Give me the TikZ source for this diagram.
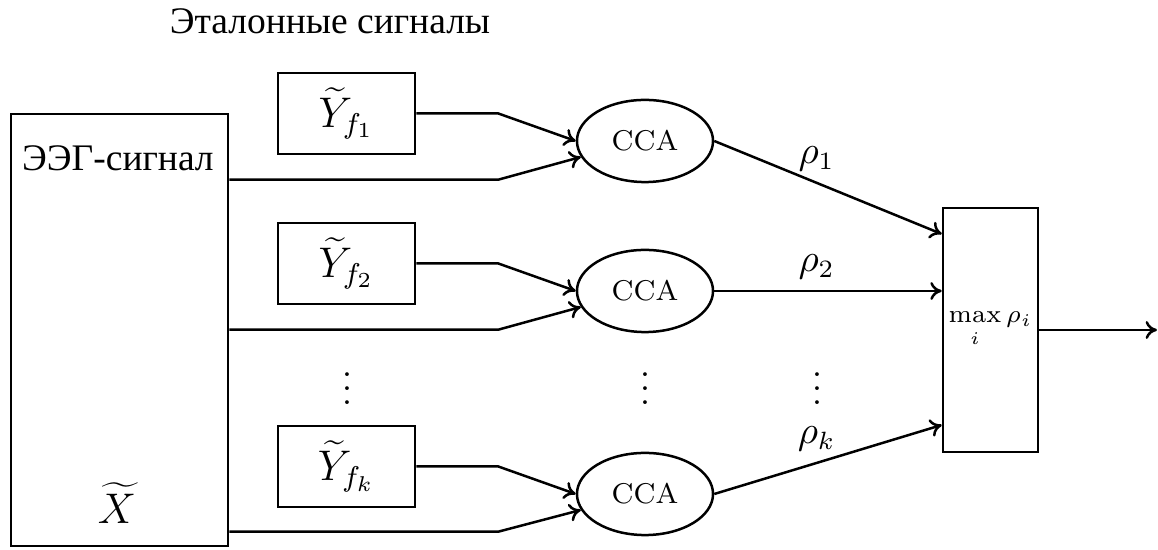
\documentclass[tikz,border=0pt]{standalone}
\usepackage{fontspec}
\newfontfamily\cyrfont{Liberation Serif}
\usetikzlibrary{calc,shapes.geometric,arrows.meta}
\begin{document}
\begin{tikzpicture}[x=0.28pt,y=-0.28pt,
  line width=0.7pt,
  >={To[length=3.2pt,width=5pt]},
  box/.style={draw,inner sep=0pt,minimum width=38.4pt,minimum height=22.7pt,font=\fontsize{11.5}{13}\selectfont},
  bigbox/.style={draw,inner sep=0pt,minimum width=60.8pt,minimum height=121pt},
  ccabox/.style={draw,ellipse,inner sep=0pt,minimum width=38.1pt,minimum height=23pt,font=\footnotesize},
  maxbox/.style={draw,inner sep=0pt,minimum width=26.6pt,minimum height=68.3pt,font=\scriptsize},
  conn/.style={->},
  lbl/.style={inner sep=0pt},
  rho/.style={inner sep=0pt,font=\fontsize{10.5}{12}\selectfont},
  cyr/.style={inner sep=0pt,font=\cyrfont\fontsize{10.5}{12}\selectfont}]
\useasboundingbox (0,0) rectangle (1158,550);
% title
\node[cyr] (title) at (330,21) {Эталонные сигналы};
% EEG box
\node[bigbox] (eeg) at (119.5,330) {};
\node[cyr] (eegt) at (118,158) {ЭЭГ-сигнал};
\node[lbl,font=\fontsize{11.5}{13}\selectfont] (xt) at (117,503) {$\widetilde{X}$};
% reference boxes
\node[box] (y1) at (346.5,113.5) {$\widetilde{Y}_{f_1}$};
\node[box] (y2) at (346.5,263.5) {$\widetilde{Y}_{f_2}$};
\node[box] (yk) at (346.5,466.5) {$\widetilde{Y}_{f_k}$};
% CCA
\node[ccabox] (c1) at (645,141) {CCA};
\node[ccabox] (c2) at (645,291) {CCA};
\node[ccabox] (ck) at (645,494) {CCA};
% max box
\node[maxbox] (m) at (990.5,330) {$\max\limits_i \rho_i$};
\coordinate (out) at (1157,330);
% dots
\node[lbl] (d1) at (347,378) {$\vdots$};
\node[lbl] (d2) at (645,378) {$\vdots$};
\node[lbl] (d3) at (817,378) {$\vdots$};
% connectors from reference boxes
\draw[conn] (y1.east) -- ($(y1.east)+(82,0)$) -- (c1.west);
\draw[conn] (y2.east) -- ($(y2.east)+(82,0)$) -- (c2.west);
\draw[conn] (yk.east) -- ($(yk.east)+(82,0)$) -- (ck.west);
% connectors from EEG box
\draw[conn] ($(eeg.north east)+(0,67)$) -- ($(eeg.north east)+(269,67)$) -- (c1.194);
\draw[conn] ($(eeg.north east)+(0,217)$) -- ($(eeg.north east)+(269,217)$) -- (c2.194);
\draw[conn] ($(eeg.north east)+(0,419)$) -- ($(eeg.north east)+(269,419)$) -- (ck.194);
% rho connectors
\draw[conn] (c1.east) -- node[pos=.45,above=3pt,rho] {$\rho_1$} ($(m.west)+(0,-96)$);
\draw[conn] (c2.east) -- node[pos=.45,above=3pt,rho] {$\rho_2$} ($(m.west)+(0,-39)$);
\draw[conn] (ck.east) -- node[pos=.45,above=3pt,rho] {$\rho_k$} ($(m.west)+(0,95)$);
\draw[conn] (m.east) -- (out);
\end{tikzpicture}
\end{document}
